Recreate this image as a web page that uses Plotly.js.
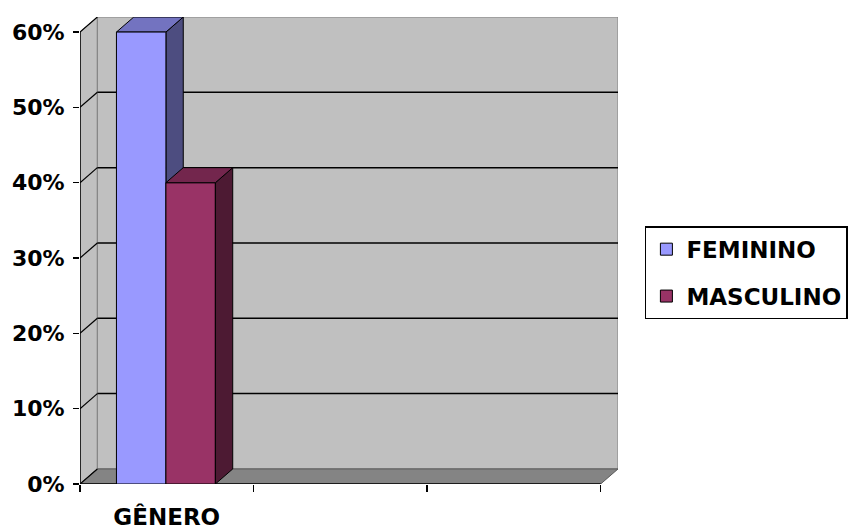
<!DOCTYPE html>
<html>
<head>
<meta charset="utf-8">
<script src="https://cdn.plot.ly/plotly-3.0.1.min.js"></script>
<style>html,body{margin:0;padding:0;background:#fff;}#chart{width:856px;height:532px;}</style>
</head>
<body>
<div id="chart"></div>
<script>
// ---- data ----
const categories = ['GÊNERO'];
const seriesNames = ['FEMININO', 'MASCULINO'];
const femininoValues = [0.60];
const masculinoValues = [0.40];
const yTickValues = [0, 0.1, 0.2, 0.3, 0.4, 0.5, 0.6];
const categoryBoundaries = [-0.5, 0.5, 1.5, 2.5];

// ---- styling ----
const frontColors = ['#9999FF', '#993366'];
const topColors = ['#7373C0', '#73264D'];
const sideColors = ['#4D4D80', '#4D1A33'];
const barWidth = 0.285;
const barOffsets = [-0.29, -0.005];
const DX = 0.1, DY = 0.02;           // pseudo-3D depth in axis units
const X0 = -0.5, X1 = 2.5, YTOP = 0.6;
const FONT = 'DejaVu Sans';

const seriesValues = [femininoValues, masculinoValues];
const catIndex = categories.map((c, i) => i);

const traces = seriesNames.map((name, s) => ({
  type: 'bar',
  name: name,
  x: catIndex,
  y: seriesValues[s],
  width: categories.map(() => barWidth),
  offset: categories.map(() => barOffsets[s]),
  marker: {color: frontColors[s], line: {color: '#000', width: 1}},
  legendgroup: 'g' + s,
  hoverinfo: 'skip'
}));

const shapes = [];
// side wall (left)
shapes.push({type: 'path', layer: 'below', xref: 'x', yref: 'y',
  path: `M${X0},0 L${X0},${YTOP} L${X0 + DX},${YTOP + DY} L${X0 + DX},${DY} Z`,
  fillcolor: '#C0C0C0', line: {color: '#808080', width: 1}});
// back wall
shapes.push({type: 'rect', layer: 'below', xref: 'x', yref: 'y',
  x0: X0 + DX, x1: X1 + DX, y0: DY, y1: YTOP + DY,
  fillcolor: '#C0C0C0', line: {color: '#808080', width: 1}});
// floor
shapes.push({type: 'path', layer: 'below', xref: 'x', yref: 'y',
  path: `M${X0},0 L${X1},0 L${X1 + DX},${DY} L${X0 + DX},${DY} Z`,
  fillcolor: '#848484', line: {color: '#5a5a5a', width: 1}});
// gridlines (back wall + side wall diagonals)
yTickValues.forEach(v => {
  if (v > 0 && v < YTOP) {
    shapes.push({type: 'line', layer: 'below', xref: 'x', yref: 'y',
      x0: X0 + DX, x1: X1 + DX, y0: v + DY, y1: v + DY, line: {color: '#000', width: 1.5}});
  }
  shapes.push({type: 'line', layer: 'below', xref: 'x', yref: 'y',
    x0: X0, x1: X0 + DX, y0: v, y1: v + DY, line: {color: '#000', width: 1.2}});
});
// front axis lines
shapes.push({type: 'line', layer: 'below', xref: 'x', yref: 'y',
  x0: X0, x1: X0, y0: 0, y1: YTOP, line: {color: '#000', width: 1.5}});
shapes.push({type: 'line', layer: 'below', xref: 'x', yref: 'y',
  x0: X0, x1: X1, y0: 0, y1: 0, line: {color: '#000', width: 1.5}});

// bar top and side faces, built from the data values
seriesNames.forEach((name, s) => {
  catIndex.forEach((ci, k) => {
    const v = seriesValues[s][k];
    const a = ci + barOffsets[s];
    const b = a + barWidth;
    const layer = s === 0 ? 'below' : 'above';
    shapes.push({type: 'path', layer: layer, xref: 'x', yref: 'y',
      path: `M${b},0 L${b},${v} L${b + DX},${v + DY} L${b + DX},${DY} Z`,
      fillcolor: sideColors[s], line: {color: '#000', width: 1}});
    shapes.push({type: 'path', layer: layer, xref: 'x', yref: 'y',
      path: `M${a},${v} L${b},${v} L${b + DX},${v + DY} L${a + DX},${v + DY} Z`,
      fillcolor: topColors[s], line: {color: '#000', width: 1}});
  });
});

const layout = {
  width: 856, height: 532,
  margin: {l: 80, r: 238, t: 17, b: 48, pad: 0, autoexpand: false},
  paper_bgcolor: '#fff', plot_bgcolor: 'rgba(0,0,0,0)',
  barmode: 'overlay',
  showlegend: true,
  xaxis: {
    range: [X0, X1 + DX], fixedrange: true, automargin: false,
    showgrid: false, zeroline: false, showline: false,
    tickmode: 'array', tickvals: catIndex, ticktext: categories,
    ticks: '', ticklabelstandoff: 17,
    tickfont: {family: FONT, size: 23, weight: 'bold', color: '#000'},
    minor: {tickmode: 'array', tickvals: categoryBoundaries, ticks: 'outside', ticklen: 7, tickwidth: 1.5, tickcolor: '#000', showgrid: false}
  },
  yaxis: {
    range: [0, YTOP + DY], fixedrange: true, automargin: false,
    showgrid: false, zeroline: false, showline: false,
    tickmode: 'array', tickvals: yTickValues, tickformat: '.0%',
    ticks: 'outside', ticklen: 6, tickwidth: 1.5, tickcolor: '#000',
    ticklabelstandoff: 4,
    tickfont: {family: FONT, size: 22, weight: 'bold', color: '#000'}
  },
  legend: {
    x: 1.050, xanchor: 'left', y: 0.552, yanchor: 'top',
    bgcolor: '#fff', bordercolor: '#000', borderwidth: 1.5,
    traceorder: 'grouped', tracegroupgap: 14,
    font: {family: FONT, size: 23, weight: 'bold', color: '#000'}
  },
  shapes: shapes
};

Plotly.newPlot('chart', traces, layout, {displayModeBar: false, staticPlot: true});
</script>
</body>
</html>
